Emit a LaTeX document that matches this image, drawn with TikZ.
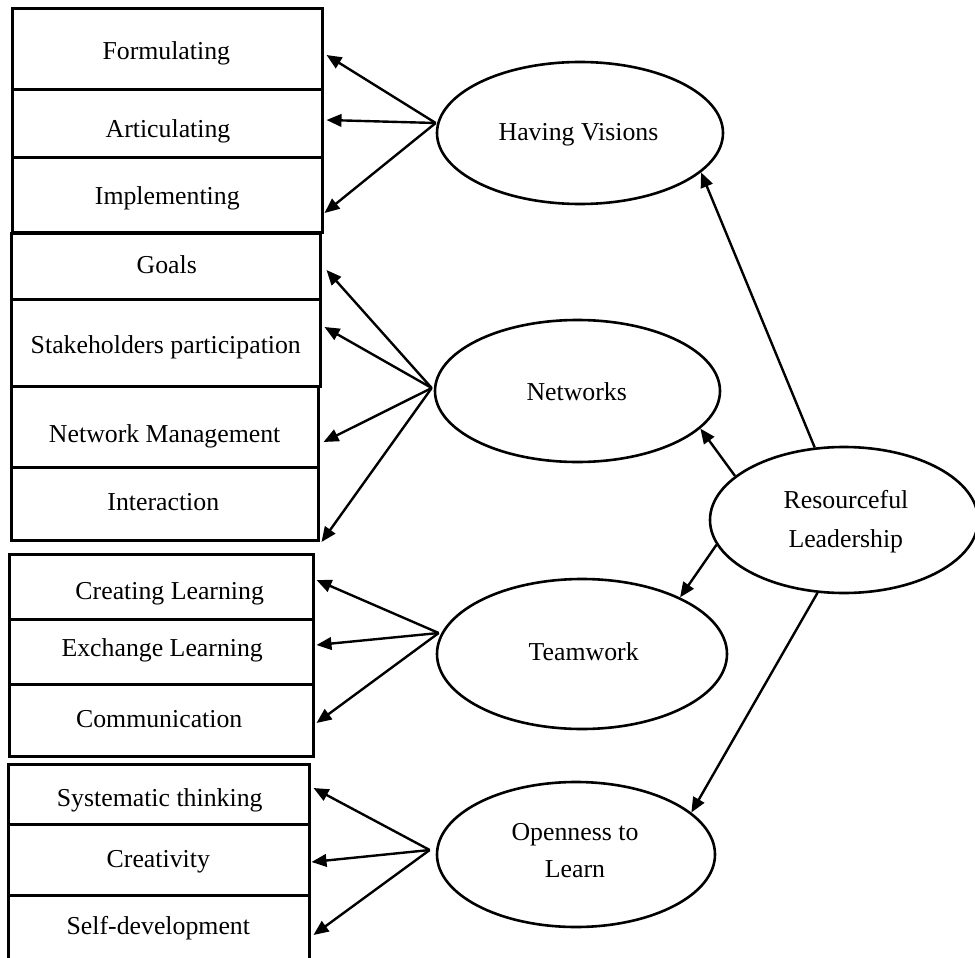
\documentclass[tikz,border=0pt]{standalone}
\usepackage{fontspec}
\setmainfont{Liberation Serif}
\usetikzlibrary{arrows.meta,shapes.geometric}
\begin{document}
\begin{tikzpicture}[x=1pt,y=-1pt,
  cell/.style={draw, line width=3pt, rectangle, inner sep=0pt},
  oval/.style={draw, ellipse, line width=2.6pt, inner sep=0pt},
  lbl/.style={anchor=base, inner sep=0pt, font=\fontsize{25.8}{30}\selectfont},
  link/.style={line width=2.4pt, -{Triangle[length=15pt,width=12.5pt]}}]
\useasboundingbox (0,0) rectangle (975,958);

% ---- boxes: Having Visions group
\node[cell, minimum width=310pt, minimum height=81pt] (form) at (167,49.5) {};
\node[cell, minimum width=310pt, minimum height=67pt] (artic) at (167,123.5) {};
\node[cell, minimum width=310pt, minimum height=75pt] (impl) at (167,194.5) {};
% ---- Networks group
\node[cell, minimum width=309pt, minimum height=66pt] (goals) at (165.5,266) {};
\node[cell, minimum width=309pt, minimum height=87pt] (stake) at (165.5,342.5) {};
\node[cell, minimum width=307pt, minimum height=81pt] (netm) at (164.5,426.5) {};
\node[cell, minimum width=307pt, minimum height=73pt] (inter) at (164.5,503.5) {};
% ---- Teamwork group
\node[cell, minimum width=304pt, minimum height=65pt] (creat) at (161,586.5) {};
\node[cell, minimum width=304pt, minimum height=65pt] (exch) at (161,651.5) {};
\node[cell, minimum width=304pt, minimum height=72pt] (comm) at (161,720) {};
% ---- Openness group
\node[cell, minimum width=301pt, minimum height=60pt] (syst) at (158.5,794) {};
\node[cell, minimum width=301pt, minimum height=71pt] (crea) at (158.5,859.5) {};
\node[cell, minimum width=301pt, minimum height=80pt] (selfd) at (158.5,935) {};

% ---- box texts
\node[lbl] (tform) at (166.3,59.3) {Formulating};
\node[lbl] (tartic) at (168,137.7) {Articulating};
\node[lbl] (timpl) at (167.3,204.3) {Implementing};
\node[lbl] (tgoals) at (166.8,273.3) {Goals};
\node[lbl] (tstake) at (165.8,353.3) {Stakeholders participation};
\node[lbl] (tnetm) at (164.7,442.3) {Network Management};
\node[lbl] (tinter) at (163.3,510.7) {Interaction};
\node[lbl] (tcreat) at (169.7,599.3) {Creating Learning};
\node[lbl] (texch) at (162.2,656.7) {Exchange Learning};
\node[lbl] (tcomm) at (159.2,727.7) {Communication};
\node[lbl] (tsyst) at (159.7,806.7) {Systematic thinking};
\node[lbl] (tcrea) at (158.3,867.3) {Creativity};
\node[lbl] (tselfd) at (158.3,934) {Self-development};

% ---- ellipses
\node[oval, minimum width=286pt, minimum height=142pt] (hv) at (580,133) {};
\node[oval, minimum width=285pt, minimum height=142pt] (nw) at (577.5,391) {};
\node[oval, minimum width=268pt, minimum height=146pt] (rl) at (844,520) {};
\node[oval, minimum width=290pt, minimum height=150pt] (tw) at (582,654) {};
\node[oval, minimum width=278pt, minimum height=145pt] (ol) at (576,854.5) {};

\node[lbl] (thv) at (578.5,140.7) {Having Visions};
\node[lbl] (tnw) at (576.7,400) {Networks};
\node[lbl] (trl1) at (846,508.3) {Resourceful};
\node[lbl] (trl2) at (845.8,547.3) {Leadership};
\node[lbl] (ttw) at (583.7,660) {Teamwork};
\node[lbl] (tol1) at (575,840) {Openness to};
\node[lbl] (tol2) at (575,877.3) {Learn};

% ---- arrows from Having Visions
\draw[link] ([yshift=10pt]hv.west) -- ([shift={(3pt,-5.5pt)}]form.east);
\draw[link] ([yshift=10pt]hv.west) -- ([shift={(3pt,3.5pt)}]artic.east);
\draw[link] ([yshift=10pt]hv.west) -- ([shift={(1pt,-18.5pt)}]impl.east);
% ---- arrows from Networks
\draw[link] ([shift={(-2pt,3pt)}]nw.west) -- ([shift={(5pt,-4pt)}]goals.east);
\draw[link] ([shift={(-2pt,3pt)}]nw.west) -- ([shift={(3pt,15.5pt)}]stake.east);
\draw[link] ([shift={(-2pt,3pt)}]nw.west) -- ([shift={(4pt,-15.5pt)}]netm.east);
\draw[link] ([shift={(-2pt,3pt)}]nw.west) -- ([shift={(2pt,-38.5pt)}]inter.east);
% ---- arrows from Teamwork
\draw[link] ([shift={(3pt,21pt)}]tw.west) -- ([shift={(2pt,6.5pt)}]creat.east);
\draw[link] ([shift={(3pt,21pt)}]tw.west) -- ([shift={(2pt,6.5pt)}]exch.east);
\draw[link] ([shift={(3pt,21pt)}]tw.west) -- ([shift={(2pt,-3pt)}]comm.east);
% ---- arrows from Openness to Learn
\draw[link] ([shift={(-6pt,4.5pt)}]ol.west) -- ([shift={(3pt,6pt)}]syst.east);
\draw[link] ([shift={(-6pt,4.5pt)}]ol.west) -- ([shift={(1pt,-2.5pt)}]crea.east);
\draw[link] ([shift={(-6pt,4.5pt)}]ol.west) -- ([shift={(3pt,0pt)}]selfd.east);
% ---- arrows from Resourceful Leadership
\draw[link] (rl.112) -- (hv.-18);
\draw[link] (rl.158) -- (nw.-17);
\draw[link] (rl.191) -- (tw.30);
\draw[link] (rl.250) -- (ol.20);
\end{tikzpicture}
\end{document}
